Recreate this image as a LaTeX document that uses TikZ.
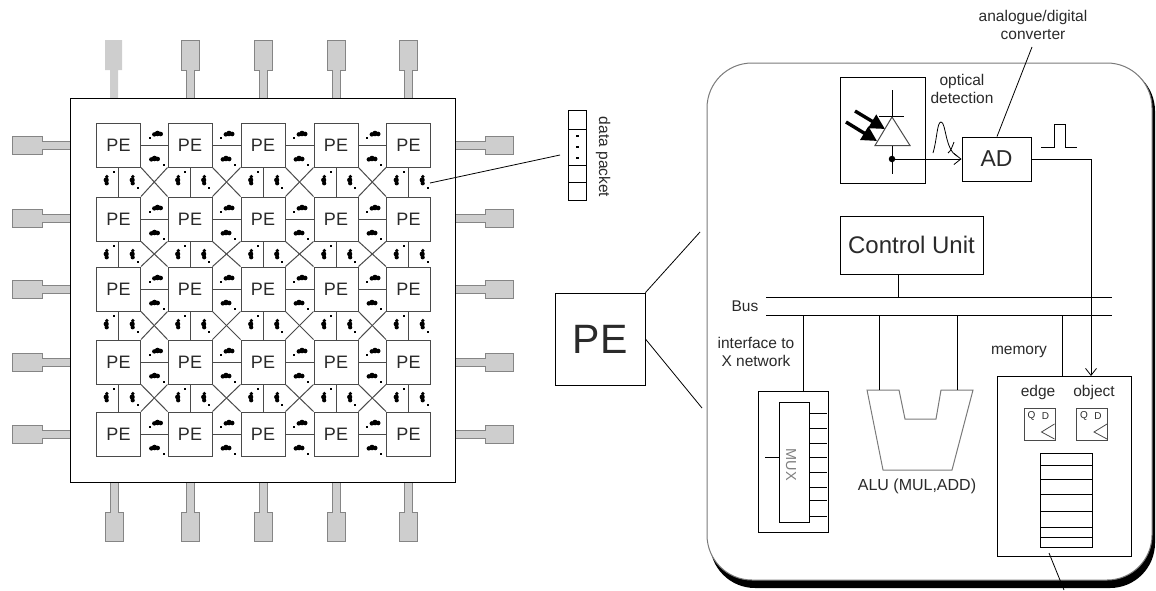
\documentclass[tikz,border=0pt]{standalone}
\usepackage{fontspec}
\setmainfont{Liberation Sans}
\usetikzlibrary{arrows.meta,positioning}
\definecolor{ink}{HTML}{2A2A2A}
\definecolor{padfill}{HTML}{CECECE}
\definecolor{padline}{HTML}{858585}
\definecolor{wire}{HTML}{4A4A4A}
\definecolor{frameline}{HTML}{7A7A7A}
\tikzset{
  pebox/.style={draw=wire,line width=1pt,fill=white,minimum width=44pt,minimum height=44pt,inner sep=0pt,text=ink,font=\fontsize{18}{20}\selectfont},
  unitbox/.style={draw=black,line width=0.9pt,fill=white,inner sep=0pt,text=ink},
  lab/.style={text=ink,align=center,inner sep=0pt,font=\fontsize{15.5}{18}\selectfont},
  pad/.style={draw=padline,line width=1pt,fill=padfill},
  link/.style={draw=wire,line width=1pt},
  wirek/.style={draw=black,line width=0.8pt},
  openarrow/.style={-{Straight Barb[length=7pt,width=11pt]}},
  heavyarrow/.style={-{Triangle[length=15pt,width=15pt]},line width=3.4pt},
}
\newcommand{\blobH}[2]{\fill (#1-3.2,#2+0.4) circle (2.2pt) (#1,#2-0.5) circle (2.8pt) (#1+3.2,#2) circle (2.3pt);}
\newcommand{\blobV}[2]{\fill (#1+0.3,#2-3.4) circle (1.9pt) (#1-0.3,#2) circle (2.6pt) (#1+0.2,#2+3.3) circle (2.1pt);}
\newcommand{\speck}[2]{\fill (#1-1,#2-1) rectangle (#1+1,#2+1);}
\begin{document}
\begin{tikzpicture}[x=1pt,y=-1pt]
 \useasboundingbox (0,0) rectangle (1156,590);
 % chip pads
 \foreach \x in {190,263,336,408}
   {\draw[pad] (\x-9,40)--(\x+9,40)--(\x+9,70)--(\x+4,70)--(\x+4,98)--(\x-4,98)--(\x-4,70)--(\x-9,70)--cycle;}
 \fill[padfill] (105,40)--(122,40)--(122,70)--(118,70)--(118,98)--(110,98)--(110,70)--(105,70)--cycle;
 \foreach \x in {114,190,263,336,408}
   {\draw[pad] (\x-4,482)--(\x+4,482)--(\x+4,512)--(\x+9,512)--(\x+9,541)--(\x-9,541)--(\x-9,512)--(\x-4,512)--cycle;}
 \foreach \y in {145,218,289,362,434}{
   \draw[pad] (70,\y-4)--(42,\y-4)--(42,\y-9)--(12,\y-9)--(12,\y+9)--(42,\y+9)--(42,\y+4)--(70,\y+4)--cycle;
   \draw[pad] (455,\y-4)--(485,\y-4)--(485,\y-9)--(513,\y-9)--(513,\y+9)--(485,\y+9)--(485,\y+4)--(455,\y+4)--cycle;
 }
 \node[draw=black,line width=1pt,fill=white,minimum width=385pt,minimum height=384pt,inner sep=0pt] (chip) at (262.5,290) {};
 % PE array
 \foreach \y/\r in {145/1,219/2,289/3,362/4,434/5}
   \foreach \x/\c in {118.5/1,190/2,263/3,336/4,408.5/5}
     {\node[pebox] (PE\r\c) at (\x,\y) {PE};}
 \foreach \r in {1,...,5}
   \foreach \c/\d in {1/2,2/3,3/4,4/5}
     {\draw[link] (PE\r\c.east)--(PE\r\d.west);}
 \foreach \r/\s in {1/2,2/3,3/4,4/5}{
   \foreach \c in {1,...,5}
     {\draw[link] (PE\r\c.south)--(PE\s\c.north);}
   \foreach \c/\d in {1/2,2/3,3/4,4/5}{
     \draw[link] (PE\r\c.south east)--(PE\s\d.north west);
     \draw[link] (PE\r\d.south west)--(PE\s\c.north east);
   }
 }
 % packets on the links
 \foreach \y in {145,219,289,362,434}
   \foreach \x in {118.5,190,263,336}{
     \blobH{\x+39}{\y-11}
     \speck{\x+31}{\y-7}
     \blobH{\x+36}{\y+14}
     \speck{\x+45}{\y+20}
   }
 \foreach \y in {145,219,289,362}
   \foreach \x in {118.5,190,263,336,408.5}{
     \blobV{\x-12}{\y+35}
     \speck{\x-5}{\y+27}
     \blobV{\x+14}{\y+35}
     \speck{\x+19}{\y+43}
   }
 % data packet
 \node[unitbox,minimum width=18pt,minimum height=90pt] (packet) at (577,155) {};
 \foreach \y in {129,165,182}
   {\draw[wirek] (568,\y)--(586,\y);}
 \foreach \y in {136,147,158}
   {\fill (576,\y-0.7) rectangle (578.5,\y+0.7);}
 \node[lab,rotate=-90] (packetlab) at (603,157) {data packet};
 \coordinate (packetend) at (430,183);
 \coordinate (packetstart) at (560,155);
 \draw[wirek] (packetend)--(packetstart);
 % PE detail
 \fill[black,rounded corners=45pt] (710,66) rectangle (1155,588);
 \draw[draw=frameline,line width=1pt,fill=white,rounded corners=45pt] (707,63) rectangle (1152,580);
 \node[unitbox,minimum width=90pt,minimum height=92pt,font=\fontsize{41}{44}\selectfont] (bigPE) at (600,339) {PE};
 \coordinate (zoomtop) at (700,232);
 \coordinate (zoombot) at (702,408);
 \draw[wirek] (bigPE.north east)--(zoomtop);
 \draw[wirek] (bigPE.east)--(zoombot);
 % optical detection
 \node[unitbox,minimum width=85pt,minimum height=106pt] (detbox) at (882.5,130) {};
 \draw[heavyarrow] (855,111)--(885,129);
 \draw[heavyarrow] (846,122)--(877,141);
 \draw[draw=wire,line width=1pt] (892,117)--(910,145.5)--(875,145.5)--cycle;
 \draw[wirek] (879,116)--(904,116);
 \draw[wirek] (892,90)--(892,116);
 \draw[wirek] (892,146)--(892,174);
 \node[fill=black,circle,inner sep=0pt,minimum size=6.5pt] (tap) at (892,159) {};
 \node[lab] (optlab) at (962,89) {optical\\detection};
 \node[unitbox,minimum width=69pt,minimum height=44pt,font=\fontsize{23}{25}\selectfont] (AD) at (996.5,159) {AD};
 \draw[wirek,openarrow] (tap)--(AD.west);
 \draw[wirek] (933,153) .. controls (937,140) and (937,122) .. (941,122) .. controls (946,122) and (945,150) .. (957,156);
 \draw[wirek] (948,153) .. controls (951,151) and (952,147) .. (954,142);
 \draw[wirek] (1041,147)--(1054,147)--(1054,124)--(1065,124)--(1065,147)--(1077,147);
 \node[lab] (adlab) at (1033,25) {analogue/digital\\converter};
 \draw[wirek] (AD.north)+(0.5,0)--(1032,47);
 % bus and units
 \coordinate (busa) at (766,297);
 \coordinate (busb) at (1112,297);
 \coordinate (busc) at (766,315);
 \coordinate (busd) at (1112,315);
 \draw[wirek] (busa)--(busb);
 \draw[wirek] (busc)--(busd);
 \node[lab] (buslab) at (745,306) {Bus};
 \node[unitbox,minimum width=143pt,minimum height=58pt,font=\fontsize{24}{26}\selectfont] (ctrl) at (911.5,245) {Control Unit};
 \draw[wirek] (ctrl.south -| 898,0)--(898,297);
 \node[lab] (iflab) at (756,351.5) {interface to\\X network};
 \node[unitbox,minimum width=70pt,minimum height=141pt] (xnet) at (793,461.5) {};
 \node[unitbox,minimum width=30pt,minimum height=120pt] (mux) at (794,462) {};
 \node[lab,rotate=-90,font=\fontsize{14.5}{16}\selectfont,text=gray] (muxlab) at (791,465) {MUX};
 \foreach \y in {413,428,443,457,472,487,500,516}
   {\draw[wirek] (809,\y)--(827,\y);}
 \draw[wirek] (765,457)--(779,457);
 \draw[wirek] (803,315)--(803,391);
 % ALU
 \draw[draw=frameline,line width=1pt] (867,390)--(899,390)--(905,419)--(936,419)--(941,390)--(973,390)--(952,470)--(883,470)--cycle;
 \draw[wirek] (879,315)--(879,390);
 \draw[wirek] (957,315)--(957,390);
 \node[lab,font=\fontsize{16}{18}\selectfont] (alulab) at (917,486) {ALU (MUL,ADD)};
 % memory
 \node[lab] (memlab) at (1019,352) {memory};
 \node[unitbox,minimum width=134pt,minimum height=180pt] (mem) at (1064,466) {};
 \draw[wirek] (1062,315)--(1062,376);
 \draw[wirek,openarrow] (AD.east)--(1091,159)--(1091,376);
 \node[lab] (edgelab) at (1038,392) {edge};
 \node[lab] (objlab) at (1094,392) {object};
 \foreach \x/\n in {1039.5/edgeff,1092/objff}{
   \node[unitbox,draw=wire,minimum width=31pt,minimum height=32pt] (\n) at (\x,424) {};
   \node[lab,font=\fontsize{10}{12}\selectfont] at (\x-8,416) {Q};
   \node[lab,font=\fontsize{10}{12}\selectfont] at (\x+6,416) {D};
   \draw[draw=wire,line width=0.8pt] (\x+15,424)--(\x+2,432)--(\x+15,439);
 }
 \node[unitbox,minimum width=52pt,minimum height=94pt] (regfile) at (1066,500) {};
 \foreach \y in {465,479,494,511,527,537}
   {\draw[wirek] (1040,\y)--(1092,\y);}
 \coordinate (memtail) at (1064,590);
 \draw[wirek] (1049,553)--(memtail);
\end{tikzpicture}
\end{document}
